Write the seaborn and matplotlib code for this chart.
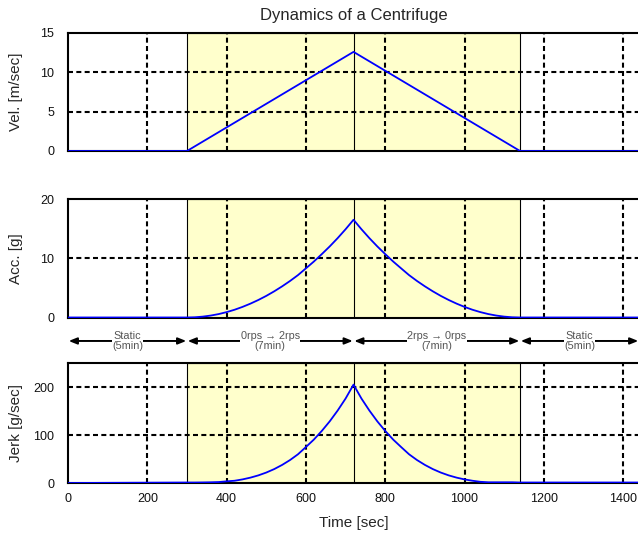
import matplotlib
matplotlib.use("Agg")
import matplotlib.pyplot as plt
import seaborn as sns
import pandas as pd

# ---- data ----
vel_time = [0, 300, 720, 1140, 1440]
vel_vals = [0.0, 0.0, 12.6, 0.0, 0.0]

curve_time = [0, 300, 320, 340, 360, 380, 400, 420, 440, 460, 480, 500, 520, 540, 560,
              580, 600, 620, 640, 660, 680, 700, 720, 740, 760, 780, 800, 820, 840,
              860, 880, 900, 920, 940, 960, 980, 1000, 1020, 1040, 1060, 1080, 1100,
              1120, 1140, 1440]
acc_vals = [0.0, 0.0, 0.04, 0.15, 0.33, 0.58, 0.91, 1.31, 1.79, 2.34, 2.96, 3.65, 4.42,
            5.26, 6.17, 7.16, 8.3, 9.45, 10.7, 12.0, 13.4, 14.9, 16.5, 14.9, 13.4,
            12.0, 10.7, 9.45, 8.3, 7.16, 6.17, 5.26, 4.42, 3.65, 2.96, 2.34, 1.79,
            1.31, 0.91, 0.58, 0.33, 0.15, 0.04, 0.0, 0.0]
jerk_vals = [0.0, 1.0, 1.0, 1.2, 1.5, 2.0, 3.5, 4.7, 7.5, 11.2, 15.9, 21.8, 29.0, 37.7,
             47.9, 59.9, 75.0, 90.5, 108.5, 128.5, 151.0, 176.0, 205.0, 176.0, 151.0,
             128.5, 108.5, 90.5, 75.0, 59.9, 47.9, 37.7, 29.0, 21.8, 15.9, 11.2, 7.5,
             4.7, 2.5, 1.5, 1.5, 1.5, 1.5, 1.0, 1.0]

phase_bounds = [0, 300, 720, 1140, 1440]
phase_labels = ["Static\n(5min)", "0rps \u2192 2rps\n(7min)",
                "2rps \u2192 0rps\n(7min)", "Static\n(5min)"]

title = "Dynamics of a Centrifuge"
xlabel = "Time [sec]"
ylabels = ["Vel. [m/sec]", "Acc. [g]", "Jerk [g/sec]"]
xticks = [0, 200, 400, 600, 800, 1000, 1200, 1400]

# ---- style ----
sns.set_theme(style="white")
plt.rcParams['font.family'] = ['Liberation Sans', 'DejaVu Sans']

fig = plt.figure(figsize=(6.38, 5.33), dpi=100)
left, width = 0.1066, 0.8950
ax1 = fig.add_axes([left, 0.7167, width, 0.2214])
ax2 = fig.add_axes([left, 0.4043, width, 0.2223])
ax3 = fig.add_axes([left, 0.0938, width, 0.2251])

vel_df = pd.DataFrame({"t": vel_time, "v": vel_vals})
cur_df = pd.DataFrame({"t": curve_time, "a": acc_vals, "j": jerk_vals})

specs = [
    (ax1, vel_df, "v", (0, 15), [0, 5, 10, 15], ylabels[0]),
    (ax2, cur_df, "a", (0, 20), [0, 10, 20], ylabels[1]),
    (ax3, cur_df, "j", (0, 250), [0, 100, 200], ylabels[2]),
]

for ax, df, col, ylim, yt, yl in specs:
    ax.axvspan(300, 1140, facecolor="#FFFFCC", edgecolor="black", lw=0.8, zorder=0)
    ax.axvline(720, color="black", lw=0.8, zorder=1)
    for x in xticks[1:]:
        ax.axvline(x, color="black", lw=1.5, ls=(0, (2.4, 1.6)), zorder=2)
    for y in yt[1:-1] if yt[-1] == ylim[1] else yt[1:]:
        ax.axhline(y, color="black", lw=1.5, ls=(0, (2.4, 1.6)), zorder=2)
    sns.lineplot(data=df, x="t", y=col, ax=ax, color="#0000FF", lw=1.3, zorder=3,
                 legend=False)
    ax.set_xlim(0, 1440)
    ax.set_ylim(*ylim)
    ax.set_yticks(yt)
    ax.set_xticks(xticks)
    ax.set_ylabel(yl, fontsize=11)
    ax.yaxis.set_label_coords(-0.078, 0.5)
    ax.set_xlabel("")
    ax.tick_params(axis="y", length=0, labelsize=9, pad=10, colors="#111111")
    ax.tick_params(axis="x", length=0, labelsize=9, pad=7, colors="#111111")
    for s in ax.spines.values():
        s.set_color("black")
        s.set_linewidth(1.5)
        s.set_visible(True)

ax1.set_xticklabels([])
ax2.set_xticklabels([])
ax1.set_title(title, fontsize=12, pad=9)
ax3.set_xlabel(xlabel, fontsize=11, labelpad=8)

# phase arrows between panel 2 and 3
yarr = -0.198
for i, lab in enumerate(phase_labels):
    x0, x1 = phase_bounds[i], phase_bounds[i + 1]
    ax2.annotate("", xy=(x1, yarr), xytext=(x0, yarr),
                 xycoords=("data", "axes fraction"),
                 textcoords=("data", "axes fraction"),
                 arrowprops=dict(arrowstyle="<|-|>,head_length=0.4,head_width=0.16",
                                 color="black", lw=1.4, shrinkA=0.5, shrinkB=0.5),
                 annotation_clip=False)
    ax2.text((x0 + x1) / 2, yarr, lab, transform=ax2.get_xaxis_transform(),
             ha="center", va="center", fontsize=7.8, color="#555555",
             linespacing=1.0,
             bbox=dict(facecolor="white", edgecolor="none", pad=0.3),
             clip_on=False, zorder=5)

fig.savefig("out.png", dpi=100)
